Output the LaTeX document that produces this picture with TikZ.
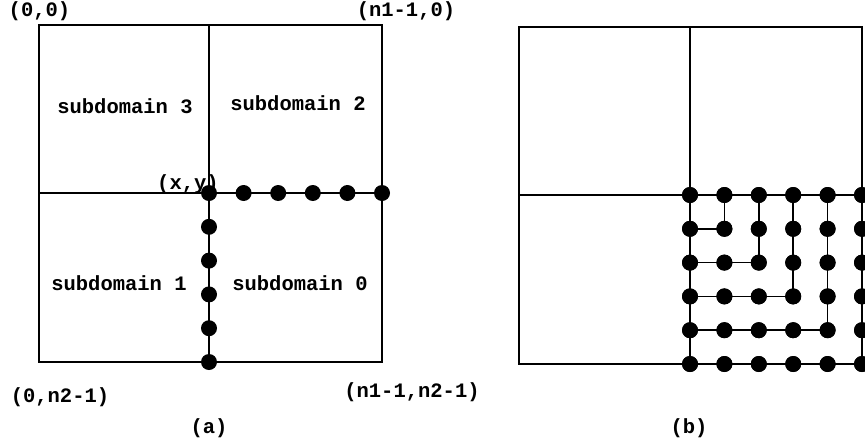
\documentclass[tikz,border=0pt]{standalone}
\usepackage{fontspec}
\setmonofont{Liberation Mono}
\begin{document}
\begin{tikzpicture}[x=1pt,y=-1pt,
  frame/.style={line width=1.5pt},
  link/.style={line width=1.7pt},
  dot/.style={circle,fill=black,inner sep=0pt,minimum size=16pt},
  lbl/.style={font=\fontsize{20.5}{24}\selectfont\ttfamily\bfseries,inner sep=0pt}]
\useasboundingbox (0,0) rectangle (865,445);
% ---------- panel (a) ----------
\draw[frame] (39,25) rectangle (382,362);
\draw[frame] (209,25) -- (209,362);
\draw[frame] (39,193) -- (382,193);
\foreach \k in {0,...,5} {
  \node[dot] (h\k) at ({209+34.6*\k},193) {};
}
\foreach \k in {1,...,5} {
  \node[dot] (v\k) at (209,{193+33.8*\k}) {};
}
\node[lbl] (t00) at (39.5,11.5) {(0,0)};
\node[lbl] (tn10) at (406,11) {(n1-1,0)};
\node[lbl] (s3) at (125,106) {subdomain 3};
\node[lbl] (s2) at (298,103) {subdomain 2};
\node[lbl] (s1) at (119,283) {subdomain 1};
\node[lbl] (s0) at (300,283) {subdomain 0};
\node[lbl] (xy) at (188,184) {(x,y)};
\node[lbl] (t0n2) at (60,397) {(0,n2-1)};
\node[lbl] (tn1n2) at (412,392) {(n1-1,n2-1)};
\node[lbl] (capa) at (209,428) {(a)};
% ---------- panel (b) ----------
\draw[frame] (519,27) rectangle (862,364);
\draw[frame] (690,27) -- (690,364);
\draw[frame] (519,195) -- (862,195);
\foreach \c in {0,...,5} {
  \foreach \r in {0,...,5} {
    \node[dot] (g-\c-\r) at ({690+34.4*\c},{195+33.8*\r}) {};
  }
}
\foreach \k in {1,...,4} {
  \draw[link] (g-0-\k.center) -| (g-\k-0.center);
}
\foreach \c in {0,...,5} {
  \foreach \r in {0,...,5} {
    \node[dot] at (g-\c-\r) {};
  }
}
\node[lbl] (capb) at (689,428) {(b)};
\end{tikzpicture}
\end{document}
